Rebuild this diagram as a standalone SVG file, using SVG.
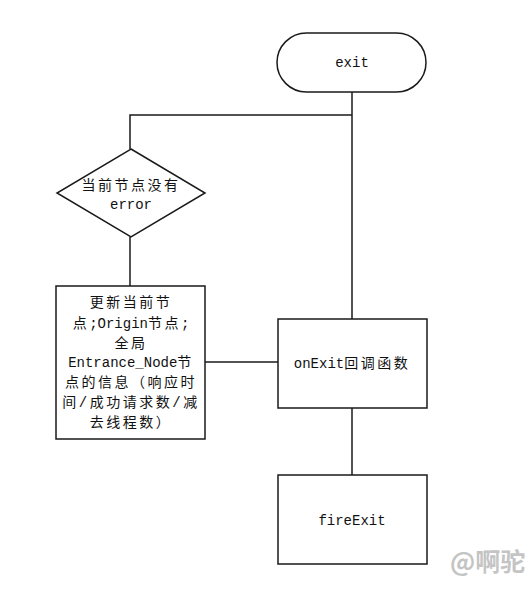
<svg xmlns="http://www.w3.org/2000/svg" width="528" height="600" viewBox="0 0 528 600">
<style>
.shape{fill:#fff;stroke:#1a1a1a;stroke-width:1.5}
.conn{fill:none;stroke:#1a1a1a;stroke-width:1.5}
.t{font-family:"Liberation Mono","Noto Sans CJK SC",monospace;font-size:14px;fill:#111;text-anchor:middle}
.c{letter-spacing:2.5px}
.wm{font-family:"Noto Sans CJK SC","Liberation Sans",sans-serif;font-size:25px;font-weight:bold;fill:#c4c4c4}
</style>
<rect width="528" height="600" fill="#fff"/>
<g id="connectors">
<path class="conn" d="M352,92 V319"/>
<path class="conn" d="M352,115 H130 V149"/>
<path class="conn" d="M130,237 V286"/>
<path class="conn" d="M205,362 H278"/>
<path class="conn" d="M352,408 V475"/>
</g>
<g id="exit">
<rect class="shape" x="277" y="33" width="149" height="59" rx="29.5" ry="29.5"/>
<text class="t" x="352" y="67">exit</text>
</g>
<g id="decision">
<polygon class="shape" points="131,149 205,193 131,237 57,193"/>
<text class="t" x="131" y="190"><tspan class="c">当前节点没有</tspan></text>
<text class="t" x="131" y="209">error</text>
</g>
<g id="update">
<rect class="shape" x="56" y="286" width="149" height="153"/>
<text class="t" x="131" y="307"><tspan class="c">更新当前节</tspan></text>
<text class="t" x="131" y="328"><tspan class="c">点</tspan>;Origin<tspan class="c">节点</tspan>;</text>
<text class="t" x="131" y="348"><tspan class="c">全局</tspan></text>
<text class="t" x="131" y="367">Entrance_Node<tspan class="c">节</tspan></text>
<text class="t" x="131" y="387"><tspan class="c">点的信息（响应时</tspan></text>
<text class="t" x="131" y="407"><tspan class="c">间/成功请求数/减</tspan></text>
<text class="t" x="131" y="427"><tspan class="c">去线程数）</tspan></text>
</g>
<g id="onExit">
<rect class="shape" x="278" y="319" width="149" height="89"/>
<text class="t" x="352" y="368">onExit<tspan class="c">回调函数</tspan></text>
</g>
<g id="fireExit">
<rect class="shape" x="278" y="475" width="149" height="89"/>
<text class="t" x="352" y="525">fireExit</text>
</g>
<text class="wm" x="450" y="571">@啊驼</text>
</svg>
